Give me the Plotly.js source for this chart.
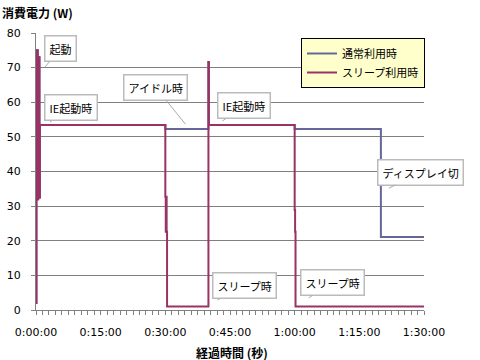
<!DOCTYPE html>
<html><head><meta charset="utf-8">
<script src="https://cdn.plot.ly/plotly-3.0.1.min.js"></script>
<style>html,body{margin:0;padding:0;background:#fff}</style>
</head><body><div id="chart" style="width:480px;height:360px"></div>
<script>
// elapsed time in seconds, power in W (step series, hv)
const timeNormal = [0, 6, 12, 18, 24, 30, 36, 42, 48, 54, 1800, 2400, 2406, 3600, 4800, 5400];
const powerNormal = [2, 75, 33, 75, 32, 73, 33, 73, 32.5, 53.4, 52.3, 71.6, 53.4, 52.3, 21.1, 21.1];
const timeSleep = [0, 6, 12, 18, 24, 30, 36, 42, 48, 54, 1800, 1806, 1812, 1818, 1824, 2400, 2406, 3600, 3606, 3612, 3618, 5400];
const powerSleep = [2, 75, 33, 75, 32, 73, 33, 73, 32.5, 53.4, 32.7, 22.6, 32.7, 22.6, 1, 71.6, 53.4, 28.9, 22.6, 1, 1, 1];
const seriesNames = ['通常利用時', 'スリープ利用時'];
const tickVals = [0, 900, 1800, 2700, 3600, 4500, 5400];
const tickText = ['0:00:00', '0:15:00', '0:30:00', '0:45:00', '1:00:00', '1:15:00', '1:30:00'];
const calloutText = ['起動', 'IE起動時', 'アイドル時', 'IE起動時', 'スリープ時', 'スリープ時', 'ディスプレイ切'];
const calloutT = [126, 195, 2079, 2595, 2526, 3795, 4912];
const calloutV = [70.2, 54.3, 53.7, 54.6, 2.9, 3.5, 35.2];
const calloutAx = [15, 21, -30, 22, 27, 24, 32];
const calloutAy = [-18, -14, -37, -15, -14, -15, -16];

const jp = '"Noto Sans CJK JP", "DejaVu Sans", sans-serif';
const traces = [
  {x: timeNormal, y: powerNormal, name: seriesNames[0], mode: 'lines', line: {color: '#666699', width: 2, shape: 'hv'}},
  {x: timeSleep, y: powerSleep, name: seriesNames[1], mode: 'lines', line: {color: '#993366', width: 2, shape: 'hv'}}
];
const anns = calloutText.map((t, i) => ({
  x: calloutT[i], y: calloutV[i], xref: 'x', yref: 'y', text: t,
  showarrow: true, arrowhead: 0, arrowwidth: 1, arrowcolor: '#aaaaaa',
  ax: calloutAx[i], ay: calloutAy[i],
  bgcolor: '#ffffff', bordercolor: '#bbbbbb', borderwidth: 1.5, borderpad: 4,
  font: {family: jp, size: 11, color: '#000'}
}));
anns.push({xref: 'paper', yref: 'paper', x: -36/388, y: (310-12)/277, xanchor: 'left', yanchor: 'middle',
  text: '<b>消費電力 (W)</b>', showarrow: false, font: {family: jp, size: 12, color: '#000'}});
anns.push({xref: 'paper', yref: 'paper', x: 0.505, y: -(352-310)/277, xanchor: 'center', yanchor: 'middle',
  text: '<b>経過時間 (秒)</b>', showarrow: false, font: {family: jp, size: 12, color: '#000'}});

const layout = {
  width: 480, height: 360,
  margin: {l: 36, r: 56, t: 33, b: 50},
  paper_bgcolor: '#fff', plot_bgcolor: '#fff',
  showlegend: true,
  legend: {x: (301-36)/388, y: (310-38)/277, xanchor: 'left', yanchor: 'top',
    bgcolor: '#ffffcc', bordercolor: '#000', borderwidth: 1,
    font: {family: jp, size: 11, color: '#000'}, tracegroupgap: 0},
  xaxis: {range: [0, 5400], tickvals: tickVals, ticktext: tickText, showgrid: false, zeroline: false,
    showline: true, linecolor: '#808080', linewidth: 1, ticks: 'outside', ticklen: 4, tickcolor: '#808080',
    minor: {dtick: 90, ticks: 'outside', ticklen: 4, tickcolor: '#808080', showgrid: false},
    tickfont: {family: '"DejaVu Sans", sans-serif', size: 11, color: '#000'}, ticklabelstandoff: 8},
  yaxis: {range: [0, 80], dtick: 10, showgrid: true, gridcolor: '#808080', gridwidth: 1, zeroline: false,
    showline: true, linecolor: '#808080', linewidth: 1, ticks: 'outside', ticklen: 4, tickcolor: '#808080',
    tickfont: {family: '"DejaVu Sans", sans-serif', size: 11, color: '#000'}, ticklabelstandoff: 8},
  annotations: anns
};
Plotly.newPlot('chart', traces, layout, {displayModeBar: false, staticPlot: true});
</script></body></html>
